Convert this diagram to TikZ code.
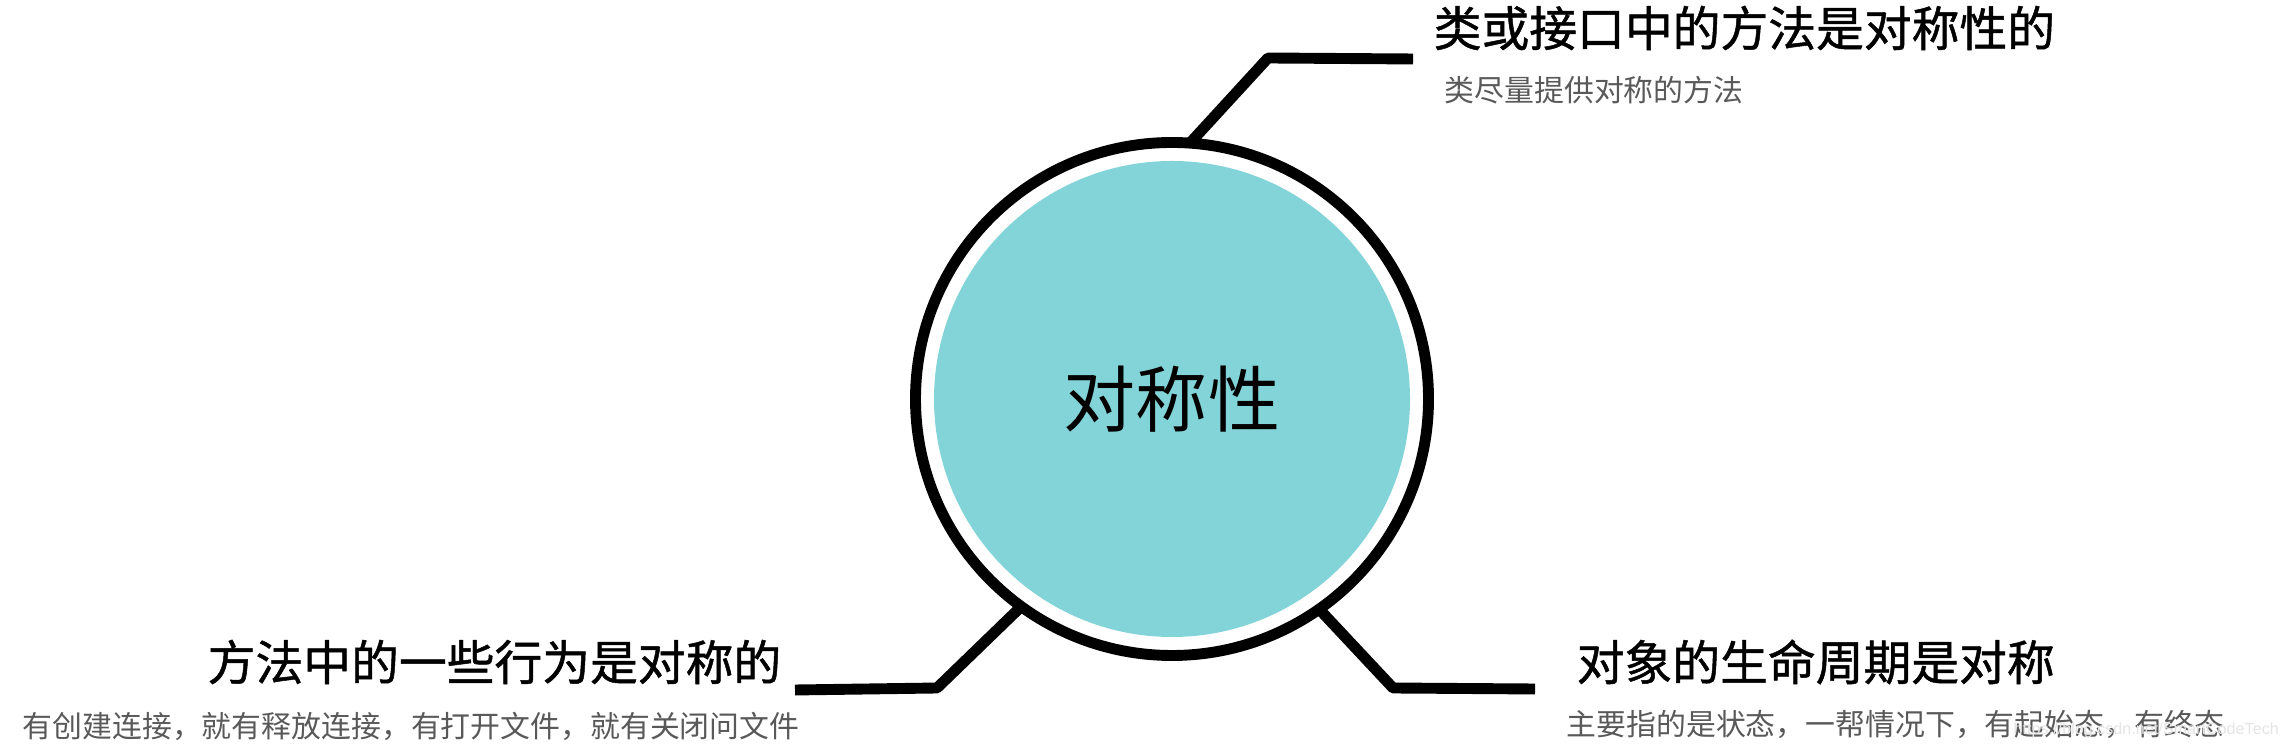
\documentclass[tikz,border=0pt]{standalone}
\usepackage{fontspec}
\usepackage{xcolor}
\usepackage{tikz}
\newfontfamily\cjk{Noto Sans CJK SC}
\newfontfamily\cjkh[FakeBold=1]{Noto Sans CJK SC}
\setsansfont{Liberation Sans}
\definecolor{core}{HTML}{82D4D8}
\definecolor{text}{HTML}{000000}
\definecolor{muted}{HTML}{595959}
\definecolor{faint}{HTML}{E4E4E4}
\tikzset{
  ring/.style={circle, draw=text, line width=3.1pt, minimum size=51.3mm, inner sep=0pt, outer sep=0pt},
  hub/.style={circle, fill=core, minimum size=47.6mm, inner sep=0pt, text=text, font=\cjk\fontsize{20.5}{24}\selectfont},
  arm/.style={draw=text, line width=3.1pt, line join=bevel},
  lab/.style={text=text, inner sep=0pt, anchor=west, font=\cjkh\fontsize{13.6}{16}\selectfont},
  labm/.style={text=muted, inner sep=0pt, anchor=west, font=\cjk\fontsize{8.5}{10}\selectfont},
  wm/.style={text=faint, inner sep=0pt, anchor=west, font=\sffamily\fontsize{4.6}{5}\selectfont},
}
\begin{document}
\begin{tikzpicture}[x=0.1mm, y=-0.1mm]
  \useasboundingbox (0,0) rectangle (2288,754);
  \node[hub] (sym) at (1172,399) {对称性};
  \node[ring] (rim) at (sym) {};
  % titles and notes
  \node[lab] (tA) at (1433,28) {类或接口中的方法是对称性的};
  \node[labm] (nA) at (1444,90) {类尽量提供对称的方法};
  \node[lab] (tB) at (207,662) {方法中的一些行为是对称的};
  \node[labm] (nB) at (22,726) {有创建连接，就有释放连接，有打开文件，就有关闭问文件};
  \node[lab] (tC) at (1576,662) {对象的生命周期是对称};
  \node[labm] (nC) at (1566,724) {主要指的是状态，一帮情况下，有起始态，有终态};
  \node[wm] (url) at (2013,730) {https://blog.csdn.net/SmartCodeTech};
  % arms
  \coordinate (kA) at (1268,58);
  \coordinate (eA) at (1413,59);
  \coordinate (kB) at (937,688);
  \coordinate (eB) at (795,690);
  \coordinate (kC) at (1393,688);
  \coordinate (eC) at (1535,689);
  \draw[arm] (rim.86) -- (kA) -- (eA);
  \draw[arm] (rim.234) -- (kB) -- (eB);
  \draw[arm] (rim.305) -- (kC) -- (eC);
\end{tikzpicture}
\end{document}
